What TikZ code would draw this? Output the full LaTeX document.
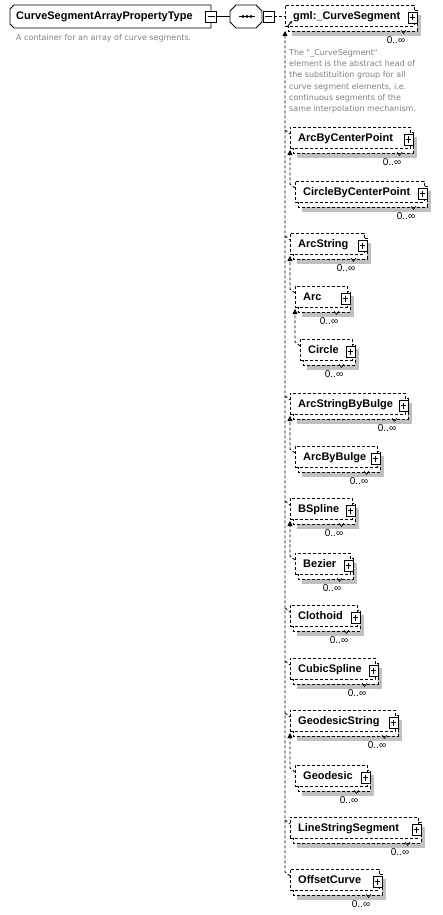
\documentclass[tikz,border=0pt]{standalone}
\usepackage{fontspec}
\setmainfont{Liberation Sans}
\newfontfamily\descfont{DejaVu Sans}
\usetikzlibrary{calc,arrows.meta}

\definecolor{descgray}{RGB}{128,128,128}
\definecolor{shadegray}{RGB}{192,192,192}

\tikzset{
  conn/.style={line width=0.8pt,dash pattern=on 3pt off 2pt},
  uptip/.style={-{Triangle[width=5pt,length=5pt]}},
  segbox/.style={draw,line width=0.8pt,dash pattern=on 3pt off 2pt,fill=white,
    anchor=north west,inner sep=0pt,outer sep=0pt,minimum height=21pt},
  backbox/.style={line width=0.8pt,dash pattern=on 3pt off 2pt,fill=white},
  seglabel/.style={anchor=base west,inner sep=0pt,font=\fontsize{11}{13}\selectfont\bfseries},
  multlabel/.style={anchor=base,inner sep=0pt,font=\fontsize{10}{12}\selectfont},
  desclabel/.style={inner sep=0pt,text=descgray,font=\descfont\fontsize{8}{11.3}\selectfont},
  plusbox/.style={draw,solid,line width=0.8pt,fill=white,inner sep=0pt,outer sep=0pt,
    minimum width=9pt,minimum height=11pt,
    path picture={\draw[line width=0.8pt]
      ([xshift=2pt]path picture bounding box.west) -- ([xshift=-2pt]path picture bounding box.east)
      ([yshift=-2.5pt]path picture bounding box.north) -- ([yshift=2.5pt]path picture bounding box.south);}},
  minusbox/.style={draw,line width=0.8pt,fill=white,inner sep=0pt,outer sep=0pt,
    minimum width=11pt,minimum height=11pt,
    path picture={\draw[line width=0.8pt]
      ([xshift=2pt]path picture bounding box.west) -- ([xshift=-2pt]path picture bounding box.east);}}
}

% one substitution member: name, label, left x, top y, outer right x
\newcommand{\curveseg}[5]{%
  \fill[shadegray] (#3+7,#4+10) rectangle (#5+4,#4+31);
  \draw[backbox] (#3+3,#4+5) rectangle (#5,#4+26);
  \node[segbox,minimum width={(#5-#3-3)*1pt}] (#1) at (#3,#4) {};
  \node[seglabel] (#1-text) at (#3+8,#4+14.5) {#2};
  \node[plusbox] (#1-plus) at (#5-4.5,#4+12.5) {};
  \draw[line width=0.6pt] (#5-16,#4+25) -- (#5-13.5,#4+28.5) -- (#5-11,#4+25);
  \node[multlabel] (#1-mult) at (#5-21,#4+38.5) {0..∞};
}

\begin{document}
\begin{tikzpicture}[x=1pt,y=-1pt,line cap=butt,line join=miter]
  \useasboundingbox[fill=white] (0,0) rectangle (443,915);

  % complex type and its sequence
  \draw[line width=0.8pt,fill=white] (14,5) -- (211,5) -- (211,28) -- (14,28) -- (10,24) -- (10,9) -- cycle;
  \node[seglabel] (root) at (16,20) {CurveSegmentArrayPropertyType};
  \node[minusbox] (rootminus) at (211,16.5) {};
  \node[desclabel,anchor=base west] (rootdesc) at (16,41) {A container for an array of curve segments.};

  \draw[line width=0.8pt,fill=white] (236,5) -- (256,5) -- (262,11) -- (262,22) -- (256,28)
    -- (236,28) -- (230,22) -- (230,11) -- cycle;
  \coordinate (seqwest) at (230,16.5);
  \draw[line width=0.8pt] (239,16.5) -- (255,16.5);
  \fill (243,16.5) circle (1.6) (247,16.5) circle (1.6) (251,16.5) circle (1.6);
  \node[minusbox] (seqminus) at (268.5,16.5) {};
  \draw[line width=0.8pt] (rootminus.east) -- (seqwest);

  % head of the substitution group
  \curveseg{head}{gml:\_CurveSegment}{285}{5}{417}
  \draw[conn] (seqminus.east) -- (head.west |- seqminus.east);
  \draw[line width=0.8pt,-{Stealth[length=3pt,width=3pt]}] ($(head.south west)+(2,1)$) -- ++(5,-6);
  \node[desclabel,anchor=north west,align=left] (headdesc) at (289,49)
    {The "\_CurveSegment"\\element is the abstract head of\\the substituition group for all\\curve segment elements, i.e.\\continuous segments of the\\same interpolation mechanism.};

  % members
  \curveseg{arcbcp}{ArcByCenterPoint}{290}{127}{413}
  \curveseg{circbcp}{CircleByCenterPoint}{295}{181}{427}
  \curveseg{arcstr}{ArcString}{290}{233}{367}
  \curveseg{arc}{Arc}{295}{286}{350}
  \curveseg{circle}{Circle}{300}{339}{355}
  \curveseg{arcsbb}{ArcStringByBulge}{290}{393}{408}
  \curveseg{arcbb}{ArcByBulge}{295}{446}{380}
  \curveseg{bspline}{BSpline}{290}{498}{355}
  \curveseg{bezier}{Bezier}{295}{553}{353}
  \curveseg{clothoid}{Clothoid}{290}{605}{360}
  \curveseg{cubspl}{CubicSpline}{290}{658}{378}
  \curveseg{geostr}{GeodesicString}{290}{710}{398}
  \curveseg{geodesic}{Geodesic}{295}{765}{370}
  \curveseg{lsseg}{LineStringSegment}{290}{817}{421}
  \curveseg{offcurve}{OffsetCurve}{290}{869}{382}

  % trunk to the head
  \draw[conn,uptip] ($(offcurve.north west)+(0,7)$) -- ($(head.west |- offcurve.north)+(0,3)$)
    -- ($(head.south west)+(0,5)$);
  \draw[conn] ($(head.west |- arcbcp.north)+(0,3)$) -- ($(arcbcp.north west)+(0,7)$);
  \draw[conn] ($(head.west |- arcstr.north)+(0,3)$) -- ($(arcstr.north west)+(0,7)$);
  \draw[conn] ($(head.west |- arcsbb.north)+(0,3)$) -- ($(arcsbb.north west)+(0,7)$);
  \draw[conn] ($(head.west |- bspline.north)+(0,3)$) -- ($(bspline.north west)+(0,7)$);
  \draw[conn] ($(head.west |- clothoid.north)+(0,3)$) -- ($(clothoid.north west)+(0,7)$);
  \draw[conn] ($(head.west |- cubspl.north)+(0,3)$) -- ($(cubspl.north west)+(0,7)$);
  \draw[conn] ($(head.west |- geostr.north)+(0,3)$) -- ($(geostr.north west)+(0,7)$);
  \draw[conn] ($(head.west |- lsseg.north)+(0,3)$) -- ($(lsseg.north west)+(0,7)$);

  % nested substitutions
  \draw[conn,uptip] ($(circbcp.north west)+(0,7)$) -- ($(arcbcp.west |- circbcp.north)+(0,3)$)
    -- ($(arcbcp.south west)+(0,2)$);
  \draw[conn,uptip] ($(arc.north west)+(0,7)$) -- ($(arcstr.west |- arc.north)+(0,3)$)
    -- ($(arcstr.south west)+(0,2)$);
  \draw[conn,uptip] ($(circle.north west)+(0,7)$) -- ($(arc.west |- circle.north)+(0,3)$)
    -- ($(arc.south west)+(0,2)$);
  \draw[conn,uptip] ($(arcbb.north west)+(0,7)$) -- ($(arcsbb.west |- arcbb.north)+(0,3)$)
    -- ($(arcsbb.south west)+(0,2)$);
  \draw[conn,uptip] ($(bezier.north west)+(0,7)$) -- ($(bspline.west |- bezier.north)+(0,3)$)
    -- ($(bspline.south west)+(0,2)$);
  \draw[conn,uptip] ($(geodesic.north west)+(0,7)$) -- ($(geostr.west |- geodesic.north)+(0,3)$)
    -- ($(geostr.south west)+(0,2)$);
\end{tikzpicture}
\end{document}
